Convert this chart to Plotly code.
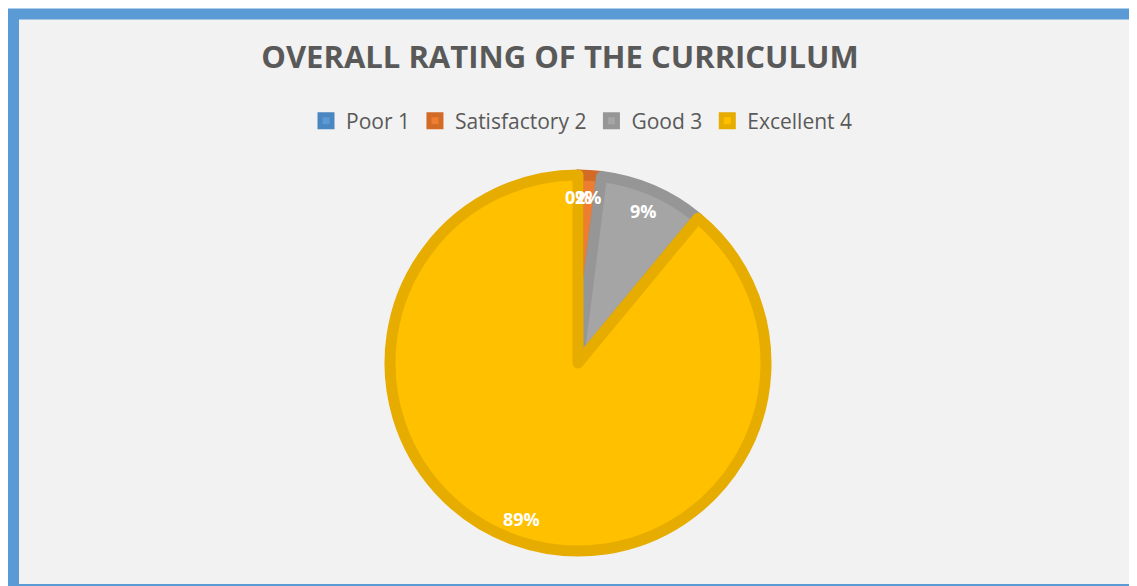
import math
import plotly.graph_objects as go

categories = ["Poor 1", "Satisfactory 2", "Good 3", "Excellent 4"]
values = [0, 2, 9, 89]
fill_colors = ["#5b9bd5", "#ed7d31", "#a5a5a5", "#ffc000"]
edge_colors = ["#4a86c0", "#d26b25", "#969696", "#e6ac00"]

W, H = 1129, 578
cx, cy, r = 570, 355, 188
R_label = 0.86 * (r + 5)

fig = go.Figure(go.Pie(
    labels=categories,
    values=values,
    sort=False,
    direction="clockwise",
    rotation=0,
    marker=dict(colors=fill_colors, line=dict(color=edge_colors, width=11)),
    textinfo="none",
    domain=dict(x=[(cx - r) / W, (cx + r) / W], y=[1 - (cy + r) / H, 1 - (cy - r) / H]),
    showlegend=True,
    hoverinfo="label+percent",
))

# data labels placed along each slice's bisector (computed from the values)
total = sum(values)
annotations = []
cum = 0
for v in values:
    mid = (cum + v / 2) / total * 2 * math.pi
    cum += v
    px = cx + R_label * math.sin(mid)
    py = cy - R_label * math.cos(mid)
    annotations.append(dict(
        x=px / W, y=1 - py / H, xref="paper", yref="paper", showarrow=False,
        text=f"<b>{round(100 * v / total)}%</b>",
        font=dict(family="Open Sans", size=18, color="white"),
        xanchor="center", yanchor="middle"))

fig.update_layout(
    width=W, height=H,
    margin=dict(l=0, r=0, t=0, b=0),
    paper_bgcolor="white",
    title=dict(text="<b>OVERALL RATING OF THE CURRICULUM</b>", x=552 / W, xanchor="center",
               y=1 - 49 / H, yanchor="middle",
               font=dict(family="Open Sans", size=31, color="#595959")),
    legend=dict(orientation="h", x=574 / W, xanchor="center", y=1 - 113 / H, yanchor="middle",
                font=dict(family="Open Sans", size=21, color="#595959"),
                bgcolor="rgba(0,0,0,0)", itemwidth=30, traceorder="normal"),
    annotations=annotations,
    shapes=[dict(type="rect", xref="paper", yref="paper", layer="below",
                 x0=5.5 / W, x1=1.02, y0=1 - 581.5 / H, y1=1 - 6 / H,
                 line=dict(color="#5b9bd5", width=11), fillcolor="#f2f2f2")],
)

fig.write_html("out.html")
